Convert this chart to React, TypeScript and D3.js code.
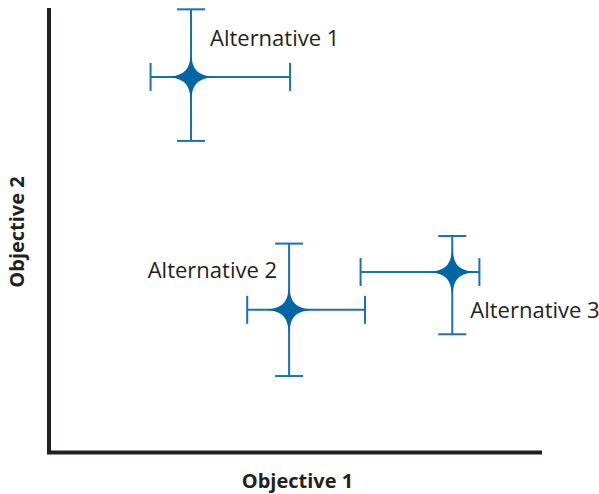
import React from "react";
import * as d3 from "d3";

const alternatives = ["Alternative 1", "Alternative 2", "Alternative 3"];
const objective1 = [28.8, 48.7, 81.8];
const objective1Low = [20.6, 40.2, 63.2];
const objective1High = [48.9, 64.1, 87.3];
const objective2 = [84.5, 32.1, 40.6];
const objective2Low = [70.1, 17.2, 26.6];
const objective2High = [99.7, 47.0, 48.7];
const xTitle = "Objective 1";
const yTitle = "Objective 2";

const W = 599;
const H = 494;
const LINE = "#1a72b0";
const STAR = "#0066a5";
const TEXT = "#231f20";

const labelOffsets = [
  { dx: 19, dy: -31, anchor: "start" },
  { dx: -12, dy: -32, anchor: "end" },
  { dx: 18, dy: 46, anchor: "start" },
];

function starPath(R: number) {
  const a = 1.5, b = 6.5;
  return `M0,${-R} C${a},${-b} ${b},${-a} ${R},0 C${b},${a} ${a},${b} 0,${R} C${-a},${b} ${-b},${a} ${-R},0 C${-b},${-a} ${-a},${-b} 0,${-R}Z`;
}

export default function App() {
  const x = d3.scaleLinear().domain([0, 100]).range([49, 542]);
  const y = d3.scaleLinear().domain([0, 100]).range([452.5, 8]);
  const cap = 14;
  const star = starPath(24);
  const font = "'Open Sans', 'Noto Sans', sans-serif";

  return (
    <svg width={W} height={H} style={{ position: "absolute", left: 0, top: 0 }}>
      <rect width={W} height={H} fill="#fff" />
      <path
        d={`M${x(0)},${y(100)} L${x(0)},${y(0)} L${x(100)},${y(0)}`}
        fill="none"
        stroke="#231f20"
        strokeWidth={4}
      />
      <text
        x={(x(0) + x(100)) / 2 + 2}
        y={488}
        textAnchor="middle"
        fontFamily={font}
        fontWeight="bold"
        fontSize={20}
        fill={TEXT}
      >
        {xTitle}
      </text>
      <text
        transform={`translate(24,${232}) rotate(-90)`}
        textAnchor="middle"
        fontFamily={font}
        fontWeight="bold"
        fontSize={20}
        fill={TEXT}
      >
        {yTitle}
      </text>
      {alternatives.map((name, i) => {
        const cx = x(objective1[i]);
        const cy = y(objective2[i]);
        const xl = x(objective1Low[i]);
        const xh = x(objective1High[i]);
        const yl = y(objective2Low[i]);
        const yh = y(objective2High[i]);
        const off = labelOffsets[i];
        return (
          <g key={name}>
            <g stroke={LINE} strokeWidth={2} fill="none">
              <line x1={xl} x2={xh} y1={cy} y2={cy} />
              <line x1={xl} x2={xl} y1={cy - cap} y2={cy + cap} />
              <line x1={xh} x2={xh} y1={cy - cap} y2={cy + cap} />
              <line x1={cx} x2={cx} y1={yl} y2={yh} />
              <line x1={cx - cap} x2={cx + cap} y1={yl} y2={yl} />
              <line x1={cx - cap} x2={cx + cap} y1={yh} y2={yh} />
            </g>
            <path d={star} transform={`translate(${cx},${cy})`} fill={STAR} />
            <text
              x={cx + off.dx}
              y={cy + off.dy}
              textAnchor={off.anchor}
              fontFamily={font}
              fontSize={22}
              fill={TEXT}
            >
              {name}
            </text>
          </g>
        );
      })}
    </svg>
  );
}
